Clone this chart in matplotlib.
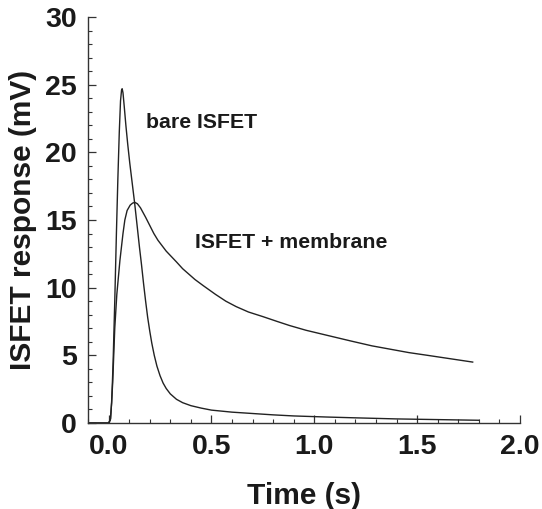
"""
plot.py -- ISFET transient response: bare ISFET vs ISFET + membrane.
"""

import matplotlib
matplotlib.use("Agg")
import matplotlib.pyplot as plt
from matplotlib.ticker import MultipleLocator

plt.rcParams["font.family"] = ["Liberation Sans", "DejaVu Sans"]

# -----------------------------------------------------------------------------
# Data
# -----------------------------------------------------------------------------

bare_t = [-0.1, 0.0, 0.008, 0.015, 0.022, 0.03, 0.038, 0.045, 0.052, 0.058,
          0.063, 0.066, 0.07, 0.076, 0.084, 0.093, 0.103, 0.115, 0.127, 0.14,
          0.15, 0.16, 0.17, 0.18, 0.19, 0.2, 0.21, 0.222, 0.235, 0.25, 0.265,
          0.28, 0.3, 0.33, 0.36, 0.4, 0.45, 0.5, 0.6, 0.7, 0.8, 0.9, 1.06,
          1.2, 1.4, 1.6, 1.8]
bare_v = [0.0, 0.0, 0.2, 1.5, 4.5, 9.0, 14.0, 18.0, 21.5, 23.8,
          24.6, 24.7, 24.4, 23.4, 22.0, 20.6, 19.2, 17.7, 16.2, 14.4,
          13.0, 11.7, 10.3, 9.0, 7.8, 6.8, 5.9, 5.0, 4.2, 3.5, 2.95,
          2.55, 2.15, 1.75, 1.5, 1.28, 1.1, 0.95, 0.8, 0.7, 0.6, 0.52, 0.44,
          0.38, 0.3, 0.25, 0.2]

memb_t = [-0.1, 0.0, 0.01, 0.02, 0.03, 0.04, 0.055, 0.07, 0.079, 0.09, 0.105,
          0.117, 0.128, 0.14, 0.155, 0.18, 0.2, 0.22, 0.24, 0.26, 0.28,
          0.305, 0.33, 0.36, 0.39, 0.42, 0.46, 0.52, 0.57, 0.62, 0.68, 0.75,
          0.82, 0.88, 0.96, 1.056, 1.18, 1.28, 1.37, 1.46, 1.55, 1.66, 1.77]
memb_v = [0.0, 0.0, 0.3, 3.0, 7.0, 9.5, 12.0, 14.0, 15.0, 15.7, 16.1,
          16.25, 16.3, 16.2, 15.9, 15.2, 14.6, 14.0, 13.5, 13.1, 12.7,
          12.3, 11.9, 11.4, 11.0, 10.6, 10.15, 9.5, 9.0, 8.6, 8.2, 7.86,
          7.5, 7.2, 6.85, 6.5, 6.05, 5.7, 5.45, 5.2, 5.0, 4.75, 4.5]

labels = ["bare ISFET", "ISFET + membrane"]
label_pos = [(0.18, 22.2), (0.42, 13.3)]


def main():
    fig = plt.figure(figsize=(5.42, 5.09), dpi=100)
    ax = fig.add_axes([0.1624, 0.169, 0.797, 0.7976])

    ax.plot(bare_t, bare_v, color="#222222", lw=1.0)
    ax.plot(memb_t, memb_v, color="#222222", lw=1.0)

    for txt, (x, y) in zip(labels, label_pos):
        ax.text(x, y, txt, fontsize=15.3, fontweight="bold",
                color="#1a1a1a", ha="left", va="center")

    ax.set_xlim(-0.1, 2.0)
    ax.set_ylim(0, 30)
    ax.xaxis.set_major_locator(MultipleLocator(0.5))
    ax.xaxis.set_minor_locator(MultipleLocator(0.1))
    ax.yaxis.set_major_locator(MultipleLocator(5))
    ax.yaxis.set_minor_locator(MultipleLocator(1))
    ax.xaxis.set_major_formatter(lambda v, p: f"{v:.1f}")

    ax.spines["top"].set_visible(False)
    ax.spines["right"].set_visible(False)
    for s in ("left", "bottom"):
        ax.spines[s].set_linewidth(1.0)
        ax.spines[s].set_color("#333333")

    ax.tick_params(which="major", direction="in", length=6, width=0.9,
                   color="#333333", labelsize=20.5, pad=8)
    ax.tick_params(which="minor", direction="in", length=3, width=0.8,
                   color="#333333")
    for lab in ax.get_xticklabels() + ax.get_yticklabels():
        lab.set_fontweight("bold")
        lab.set_color("#1a1a1a")

    ax.set_xlabel("Time (s)", fontsize=21.5, fontweight="bold", labelpad=16,
                  color="#1a1a1a")
    ax.set_ylabel("ISFET response (mV)", fontsize=21.5, fontweight="bold",
                  labelpad=6, color="#1a1a1a")

    fig.savefig("out.png", dpi=100)
    plt.close(fig)


if __name__ == "__main__":
    main()
